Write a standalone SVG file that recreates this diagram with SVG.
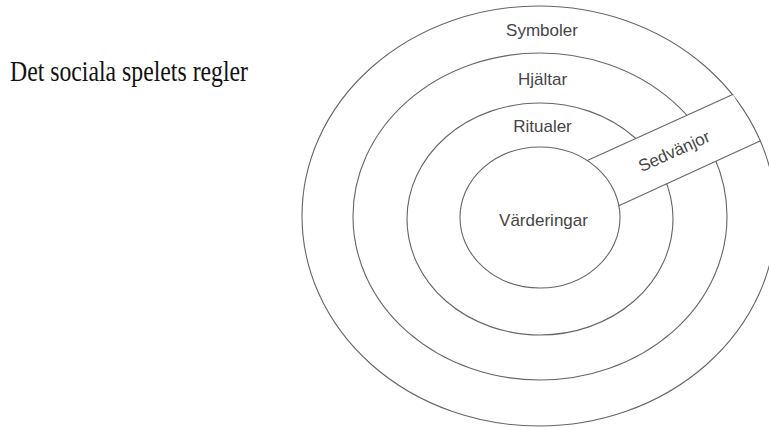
<svg xmlns="http://www.w3.org/2000/svg" width="769" height="427" viewBox="0 0 769 427">
<style>
.ring{fill:none;stroke:#666666;stroke-width:1.1}
.lbl{font-family:"Liberation Sans",Arial,sans-serif;font-size:17px;fill:#454545;text-anchor:middle}
.title{font-family:"Liberation Serif","Times New Roman",serif;font-size:30px;fill:#111}
</style>
<rect x="0" y="0" width="769" height="427" fill="#ffffff"/>
<g id="title"><text class="title" x="10" y="81" textLength="238" lengthAdjust="spacingAndGlyphs">Det sociala spelets regler</text></g>
<g id="symboler">
<ellipse class="ring" cx="539" cy="216" rx="237" ry="210" style="fill:#fff"/>
<text class="lbl" x="542" y="36">Symboler</text>
</g>
<g id="hjaltar">
<ellipse class="ring" cx="540" cy="216.5" rx="187" ry="163.5"/>
<text class="lbl" x="542.5" y="85">Hjältar</text>
</g>
<g id="ritualer">
<ellipse class="ring" cx="540" cy="219" rx="133" ry="116"/>
<text class="lbl" x="542.5" y="132">Ritualer</text>
</g>
<g id="sedvanjor">
<polygon points="586,161 733,94.6 759.5,141 618,206" fill="#fff" stroke="none"/>
<line class="ring" x1="584" y1="162" x2="733.3" y2="94.3"/>
<line class="ring" x1="615" y1="207.5" x2="760.5" y2="140.7"/>
<text class="lbl" transform="translate(676.5,156.5) rotate(-24.5)" x="0" y="0">Sedvänjor</text>
</g>
<g id="varderingar">
<ellipse class="ring" cx="540" cy="217.5" rx="80" ry="70.5" style="fill:#fff"/>
<text class="lbl" x="543.5" y="225.5">Värderingar</text>
</g>
</svg>
